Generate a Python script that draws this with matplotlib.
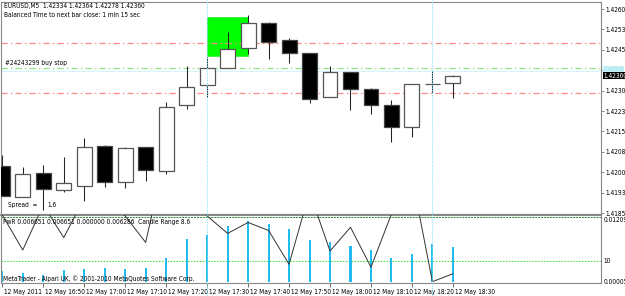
import numpy as np
import matplotlib
matplotlib.use("Agg")
import matplotlib.pyplot as plt
import matplotlib.transforms as mtransforms
from matplotlib.patches import Rectangle
from matplotlib.lines import Line2D

# EURUSD M5, 12 May 2011 16:40 - 18:30
opens  = [1.42029, 1.41915, 1.42002, 1.41939, 1.41954, 1.42100, 1.41969, 1.42097, 1.42010, 1.42252, 1.42325, 1.42388,
          1.42461, 1.42554, 1.42490, 1.42442, 1.42280, 1.42372, 1.42312, 1.42253, 1.42170, 1.42330, 1.42334]
highs  = [1.42068, 1.42024, 1.42030, 1.42062, 1.42130, 1.42105, 1.42096, 1.42098, 1.42263, 1.42395, 1.42429, 1.42519,
          1.42583, 1.42556, 1.42500, 1.42442, 1.42395, 1.42373, 1.42313, 1.42269, 1.42330, 1.42377, 1.42364]
lows   = [1.41918, 1.41915, 1.41866, 1.41932, 1.41899, 1.41952, 1.41948, 1.41974, 1.41998, 1.42236, 1.42280, 1.42388,
          1.42440, 1.42420, 1.42405, 1.42258, 1.42280, 1.42233, 1.42218, 1.42115, 1.42133, 1.42297, 1.42278]
closes = [1.41918, 1.41998, 1.41942, 1.41965, 1.42098, 1.41969, 1.42095, 1.42012, 1.42244, 1.42317, 1.42388, 1.42459,
          1.42552, 1.42484, 1.42442, 1.42273, 1.42375, 1.42312, 1.42252, 1.42171, 1.42329, 1.42331, 1.42360]

# indicator window
hist_vals = [5.2, 4.0, 3.0, 5.6, 6.2, 6.7, 6.2, 6.7, 11.3, 20.5, 22.2, 26.7, 29.0, 27.5, 25.1, 20.0, 19.0, 17.0,
             15.0, 11.4, 13.0, 17.8, 16.7]
pwr_vals = [31.8, 15.1, 36.5, 21.0, 39.6, 38.9, 31.3, 18.7, 62.7, 48.4, 31.3, 23.0, 28.2, 24.4, 8.3, 42.7, 14.6,
            25.9, 6.9, 32.2, 49.9, 0.0, 3.8]
ind_level = 10
ind_top_level = 30.8

time_labels = ["12 May 2011", "12 May 16:50", "12 May 17:00", "12 May 17:10", "12 May 17:20", "12 May 17:30",
               "12 May 17:40", "12 May 17:50", "12 May 18:00", "12 May 18:10", "12 May 18:20", "12 May 18:30"]
price_ticks = [1.42605, 1.42530, 1.42455, 1.42380, 1.42305, 1.42230, 1.42155, 1.42080, 1.42005, 1.41930, 1.41855]

sl_levels = [1.42480, 1.42296]
buy_stop = 1.42388
ask = 1.42376
bid = 1.42360
marks = [10, 21]
box_from, box_to = 10, 12
box_lo, box_hi = 1.42432, 1.42576

W, H = 625, 296
FS = 4.7
plt.rcParams["font.family"] = ["DejaVu Sans"]
plt.rcParams["font.stretch"] = "condensed"

def fx(v): return v / W
def fy(v): return 1 - v / H

fig = plt.figure(figsize=(W / 100, H / 100), dpi=100, facecolor="white")
ax = fig.add_axes([fx(1), fy(215), 600 / W, 213.5 / H])
ind = fig.add_axes([fx(1), fy(283), 600 / W, 67.5 / H], sharex=ax)

o = np.array(opens); c = np.array(closes)
x = np.arange(len(o))
up = c >= o
lo_b = np.minimum(o, c)
hgt = np.abs(c - o)

ax.add_patch(Rectangle((box_from, box_lo), box_to - box_from, box_hi - box_lo,
                       facecolor="#00ff00", edgecolor="#44ee44", lw=0.7, zorder=1))
for lv in sl_levels:
    ax.axhline(lv, color="#ff8a8a", lw=0.9, dashes=(5, 2.5, 1.2, 2.5), zorder=1.5)
ax.axhline(buy_stop, color="#90e090", lw=0.9, dashes=(5, 2.5, 1.2, 2.5), zorder=1.5)
ax.axhline(ask, color="#d4f4fa", lw=0.8, zorder=1.4)

ax.vlines(x, lows, highs, color="#222222", lw=0.75, zorder=2)
ax.bar(x[up], hgt[up], bottom=lo_b[up], width=0.73, color="white", edgecolor="#555555", lw=0.9, zorder=3)
ax.bar(x[~up], hgt[~up], bottom=lo_b[~up], width=0.73, color="black", edgecolor="#444444", lw=0.9, zorder=3)

ax.set_xlim(-0.063, 29.23)
ax.set_ylim(1.418477, 1.426326)
ax.yaxis.tick_right()
ax.set_yticks(price_ticks)
# the 1.42380 label sits under the bid/ask boxes in the terminal
ax.set_yticklabels(["" if abs(p - bid) < 0.0003 else f"{p:.5f}" for p in price_ticks])
ax.tick_params(axis="y", length=2, pad=1, labelsize=FS, color="#777777", width=0.6)
ax.tick_params(axis="x", bottom=False, labelbottom=False)
for s in ax.spines.values():
    s.set_color("#888888")
    s.set_linewidth(0.8)
ax.spines["bottom"].set_linewidth(1.6)

# price labels on the right scale
bt = mtransforms.blended_transform_factory(ax.transAxes, ax.transData)
ax.text(1.004, ask + 0.00008, f"{ask:.5f}", transform=bt, fontsize=4.0, color="#9fd8e4", va="center", ha="left",
        clip_on=False, zorder=5, bbox=dict(boxstyle="square,pad=0.05", fc="#c8f2fa", ec="none"))
ax.text(1.004, bid, f"{bid:.5f}", transform=bt, fontsize=FS, color="white", va="center", ha="left",
        clip_on=False, zorder=6, bbox=dict(boxstyle="square,pad=0.1", fc="black", ec="none"))

# indicator
ind.axhline(ind_top_level, color="#2a8a2a", lw=0.7, dashes=(2, 1))
ind.axhline(ind_level, color="#33dd33", lw=0.7, dashes=(1.5, 1.5))
ind.bar(x, hist_vals, width=0.1, color="#22bbee", zorder=2)
ind.plot(x, pwr_vals, color="#333333", lw=0.7, zorder=3)
ind.set_ylim(-0.62, 31.52)
ind.yaxis.tick_right()
ind.set_yticks([0, ind_level, 29.4])
ind.set_yticklabels(["0.000057", "10", "0.012095"])
ind.tick_params(axis="y", length=0, pad=2, labelsize=FS)
ind.set_xticks(x[::2])
ind.set_xticklabels(time_labels, ha="left")
ind.tick_params(axis="x", length=3, pad=1, labelsize=FS, color="#555555", width=0.6)
for lbl in ind.get_xticklabels():
    lbl.set_transform(lbl.get_transform() + mtransforms.ScaledTranslation(2 / 100, 0, fig.dpi_scale_trans))
for s in ind.spines.values():
    s.set_color("#888888")
    s.set_linewidth(0.8)
ind.spines["top"].set_visible(False)

# vertical markers across the whole window
vt = mtransforms.blended_transform_factory(ax.transData, fig.transFigure)
for m in marks:
    fig.add_artist(Line2D([m, m], [0, 1], transform=vt, color="#7fe0f4", lw=0.8, dashes=(1, 1.2)))

fig.text(fx(4), fy(6), "EURUSD,M5  1.42334 1.42364 1.42278 1.42360", fontsize=FS, va="center")
fig.text(fx(4), fy(15), "Balanced Time to next bar close: 1 min 15 sec", fontsize=FS, va="center")
fig.text(fx(5), fy(63), "#24243299 buy stop", fontsize=FS, va="center")
fig.text(fx(8), fy(205), "Spread  =", fontsize=FS, va="center")
fig.text(fx(47), fy(205), "1.6", fontsize=FS, va="center")
fig.text(fx(3), fy(222), "PwR 0.006651 0.006651 0.000000 0.006286  Candle Range 8.6", fontsize=FS, va="center")
fig.text(fx(3), fy(279), "MetaTrader - Alpari UK, \u00a9 2001-2010 MetaQuotes Software Corp.", fontsize=FS,
         va="center")

fig.savefig("out.png", dpi=100, facecolor="white")
